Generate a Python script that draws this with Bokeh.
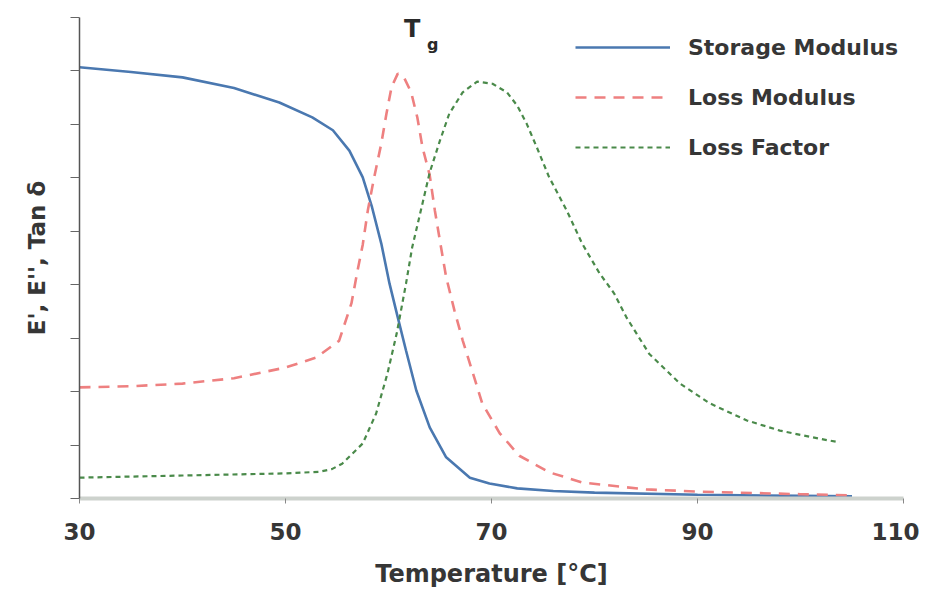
from bokeh.plotting import figure
from bokeh.models import Legend, LegendItem, Label, FixedTicker, Range1d
from bokeh.embed import file_html
from bokeh.resources import INLINE

# ---- data ----
storage_x = [30, 35, 40, 45, 49.4, 52.6, 54.6, 56.2, 57.5, 58.4, 59.3, 60.1, 60.9, 61.7, 62.7, 64.0,
             65.6, 67.9, 69.8, 72.5, 76, 80, 90, 100, 105]
storage_y = [8.07, 7.98, 7.88, 7.68, 7.41, 7.13, 6.89, 6.51, 6.01, 5.45, 4.77, 4.02, 3.39, 2.77, 2.02,
             1.33, 0.77, 0.39, 0.28, 0.19, 0.14, 0.11, 0.07, 0.05, 0.04]

loss_mod_x = [30, 35, 40, 45, 50, 53, 55.2, 56.4, 57.0, 57.5, 58.0, 58.6, 59.3, 59.8, 60.3, 60.9, 61.5,
              62.2, 62.8, 63.3, 64.0, 64.5, 65.1, 65.6, 66.4, 67.2, 68.2, 69.1, 70.8, 72.7, 75.6,
              78.8, 85, 90, 100, 105]
loss_mod_y = [2.08, 2.10, 2.15, 2.25, 2.45, 2.64, 2.95, 3.65, 4.27, 4.75, 5.40, 6.00, 6.64, 7.20,
              7.70, 7.95, 7.88, 7.60, 7.13, 6.57, 6.05, 5.39, 4.70, 4.14, 3.52, 2.96, 2.34, 1.78,
              1.22, 0.80, 0.49, 0.30, 0.17, 0.13, 0.08, 0.06]

loss_fac_x = [30, 40, 50, 53.3, 54.5, 55.5, 57.5, 58.8, 59.9, 60.8, 61.7, 62.3, 63.3, 64.0, 65.0,
              65.9, 67.2, 68.6, 70.1, 71.5, 72.5, 73.4, 74.4, 75.6, 77.3, 78.8, 80.5, 81.9, 83.1,
              85.3, 88.3, 91.2, 94.8, 98.0, 101.8, 103.8]
loss_fac_y = [0.39, 0.43, 0.47, 0.50, 0.55, 0.65, 1.03, 1.59, 2.34, 3.09, 4.02, 4.70, 5.52, 6.10,
              6.70, 7.20, 7.60, 7.80, 7.76, 7.60, 7.35, 7.02, 6.57, 6.01, 5.39, 4.77, 4.21, 3.84,
              3.39, 2.71, 2.15, 1.78, 1.46, 1.27, 1.12, 1.05]

x_ticks = [30, 50, 70, 90, 110]
y_ticks = [0, 1, 2, 3, 4, 5, 6, 7, 8, 9]
series_names = ["Storage Modulus", "Loss Modulus", "Loss Factor"]

FONT = "DejaVu Sans"
TXT = "#363636"

p = figure(width=919, height=590, output_backend="svg", toolbar_location=None,
           x_range=Range1d(30, 110), y_range=Range1d(0, 9),
           min_border_left=79, min_border_right=16, min_border_top=17, min_border_bottom=92)
p.outline_line_color = None
p.xgrid.visible = False
p.ygrid.visible = False
p.background_fill_color = "white"

r1 = p.line(storage_x, storage_y, line_color="#4a78b0", line_width=2.6)
r2 = p.line(loss_mod_x, loss_mod_y, line_color="#ee8080", line_width=2.6, line_dash="11 8")
r3 = p.line(loss_fac_x, loss_fac_y, line_color="#4a8a4a", line_width=2.2, line_dash="5 4")

# x axis
xa = p.xaxis[0]
xa.ticker = FixedTicker(ticks=x_ticks)
xa.axis_line_color = "#cdd2cd"
xa.axis_line_width = 4
xa.major_tick_line_color = "#888888"
xa.major_tick_out = 5
xa.major_tick_in = 0
xa.minor_tick_line_color = None
xa.major_label_text_font = FONT
xa.major_label_text_font_style = "bold"
xa.major_label_text_font_size = "23px"
xa.major_label_text_color = TXT
xa.major_label_standoff = 19
xa.axis_label = "Temperature [°C]"
xa.axis_label_text_font = FONT
xa.axis_label_text_font_style = "bold"
xa.axis_label_text_font_size = "24px"
xa.axis_label_text_color = TXT
xa.axis_label_standoff = 17

# y axis
ya = p.yaxis[0]
ya.ticker = FixedTicker(ticks=y_ticks)
ya.axis_line_color = "#555555"
ya.axis_line_width = 1.5
ya.major_tick_line_color = "#666666"
ya.major_tick_out = 9
ya.major_tick_in = 0
ya.minor_tick_line_color = None
ya.major_label_overrides = {t: "" for t in y_ticks}
ya.major_label_standoff = 0
ya.axis_label = "E', E'', Tan δ"
ya.axis_label_text_font = FONT
ya.axis_label_text_font_style = "bold"
ya.axis_label_text_font_size = "23px"
ya.axis_label_text_color = TXT
ya.axis_label_standoff = 21

# Tg annotation
p.add_layout(Label(x=62.3, y=8.78, text="T", text_font=FONT, text_font_style="bold",
                   text_font_size="24px", text_color="#2a2a2a", text_align="center",
                   text_baseline="middle"))
p.add_layout(Label(x=64.3, y=8.50, text="g", text_font=FONT, text_font_style="bold",
                   text_font_size="16px", text_color="#2a2a2a", text_align="center",
                   text_baseline="middle"))

legend = Legend(items=[LegendItem(label=series_names[0], renderers=[r1]),
                       LegendItem(label=series_names[1], renderers=[r2]),
                       LegendItem(label=series_names[2], renderers=[r3])],
                location=(496, 336), padding=0, margin=0, spacing=20,
                glyph_width=95, glyph_height=30, label_height=30, label_standoff=18,
                label_text_font=FONT, label_text_font_style="bold",
                label_text_font_size="22px", label_text_color=TXT,
                border_line_color=None, background_fill_alpha=0)
p.add_layout(legend, "center")

open("out.html", "w").write(file_html(p, INLINE))
